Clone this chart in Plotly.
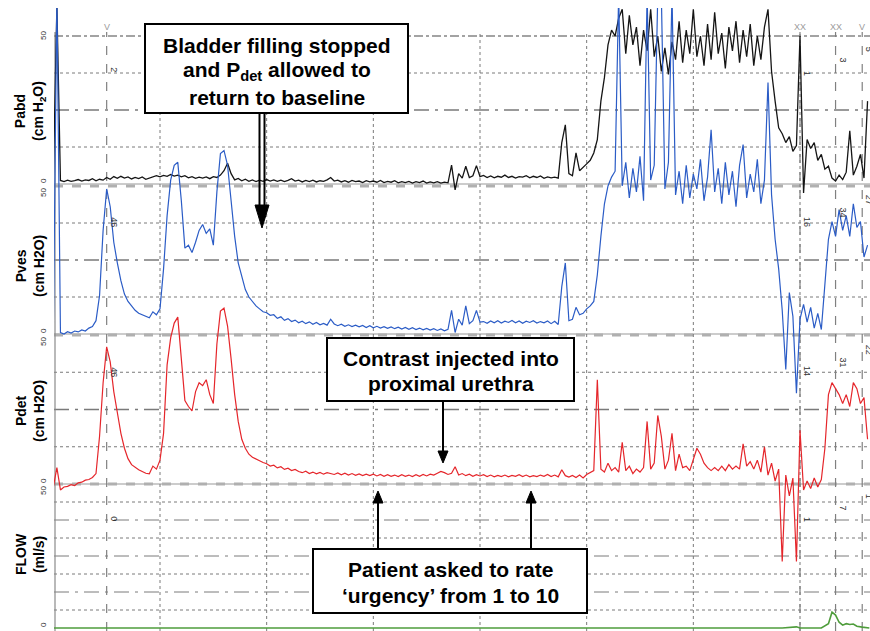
import plotly.graph_objects as go

# ---------------- data ----------------
SAMPLE_STEP_S = 2  # one sample every 2 s

pabd_cmh2o = [
    2, 60, 1.2, 0.8, 1.3, 0.9, 1.1, 1.5, 1.0, 1.4,
    1.2, 1.8, 1.1, 1.6, 1.3, 2.2, 1.6, 2.5, 1.9, 2.6,
    2.0, 2.4, 1.7, 2.2, 1.8, 2.4, 1.6, 2.0, 2.3, 2.8,
    2.4, 2.9, 2.6, 3.2, 2.7, 3.0, 2.4, 2.8, 2.1, 2.5,
    1.9, 2.3, 2.0, 2.4, 1.8, 2.5, 2.2, 3.0, 4.5, 7.0,
    3.5, 1.4, 1.9, 1.1, 1.6, 0.9, 1.4, 0.8, 1.3, 0.9,
    1.5, 1.0, 1.4, 0.9, 1.3, 0.8, 1.2, 1.8, 1.0, 1.3,
    0.7, 1.2, 0.8, 1.3, 0.7, 1.1, 0.9, 1.4, 2.2, 1.0,
    1.3, 0.7, 1.1, 0.6, 1.2, 0.8, 1.0, 0.5, 1.1, 0.7,
    1.0, 0.6, 1.2, 0.5, 0.9, 0.6, 1.1, 0.4, 0.8, 0.5,
    0.9, 0.3, 0.8, 0.5, 1.0, 0.3, 0.7, 0.4, 0.8, 0.3,
    0.6, 0.4, 6.4, -2.0, 3.5, 2.0, 6.0, 2.2, 2.8, 6.2,
    2.5, 2.9, 2.2, 2.7, 2.1, 2.6, 2.3, 3.0, 2.2, 2.6,
    2.0, 2.5, 2.3, 2.8, 2.1, 2.6, 2.2, 2.7, 1.9, 2.4,
    2.1, 2.3, 2.0, 14.0, 20.0, 3.5, 2.8, 10.5, 4.5, 5.5,
    6.8, 8.0, 10.5, 15.0, 28.0, 36.0, 47.0, 52.0, 50.0, 56.0,
    59, 44, 57, 47, 53, 40, 52, 45, 59, 43,
    50, 38, 46, 37, 48, 42, 55, 41, 52, 44,
    59, 43, 50, 40, 54, 42, 58, 44, 51, 39,
    53, 45, 55, 41, 52, 43, 54, 40, 50, 42,
    53, 59, 38, 28, 19, 17, 14, 16, 11, 13,
    50, -3, 15, 12, 14, 8, 10, 5, 6, 2,
    1, 3, 1.5, 4, 18, 3, 6, 10, 2, 28,
]

pves_cmh2o = [
    1, 115, 0.5, 0.0, 0.8, 0.3, 1.0, 0.7, 1.4, 1.0,
    2.0, 2.5, 4.5, 13, 35, 49, 43, 31, 24, 18,
    13.5, 11, 9.5, 8, 7, 6.5, 5.8, 5.5, 7.5, 6.5,
    8.5, 22, 40, 52, 57, 58, 45, 29, 30, 27.5,
    31, 35, 37, 34, 35.5, 30, 48, 61, 62, 57,
    45, 33, 24, 19, 15, 12.5, 11, 9.5, 8.5, 7.5,
    7.2, 6.3, 6.5, 5.3, 5.8, 4.6, 5.2, 4.2, 4.7, 3.8,
    4.3, 3.5, 4.1, 3.3, 3.9, 3.1, 3.6, 3.0, 5.0, 3.4,
    2.8, 3.3, 2.6, 3.1, 2.5, 3.0, 2.4, 2.9, 2.2, 2.8,
    2.1, 2.6, 2.0, 2.5, 1.9, 2.4, 1.8, 2.3, 1.7, 2.2,
    1.6, 2.1, 1.5, 2.0, 1.4, 1.9, 1.3, 1.8, 1.2, 1.7,
    1.1, 1.6, 8, 0.5, 5, 3, 9.5, 3.5, 4.5, 8,
    4, 4.2, 3.6, 4.4, 3.8, 4.5, 3.7, 4.3, 3.9, 4.6,
    3.8, 4.4, 3.6, 4.3, 3.9, 4.5, 3.7, 4.2, 3.8, 4.4,
    3.5, 4.3, 3.2, 16, 24, 4.5, 5, 9, 6.5, 7,
    8.5, 9.5, 11, 20, 33, 44, 50, 53, 55, 115,
    50, 58, 46, 56, 48, 60, 45, 115, 52, 57,
    115, 115, 49, 58, 115, 47, 55, 44, 57, 46,
    54, 49, 59, 45, 53, 69, 48, 56, 44, 58,
    47, 55, 43, 57, 64, 46, 54, 48, 59, 44,
    52, 85, 47, 32, 22, 8, -12, 14, 6, -20,
    5, 10, 4, 9, 2, 7, 1.5, 18, 32, 38,
    33, 42, 35, 40, 33, 44, 36, 38, 26, 30,
]

pdet_cmh2o = [
    -1, 5.5, -2, -1, -0.8, -0.2, -0.5, 0.4, 0.6, 1.3,
    1.5, 2.2, 3.5, 16, 34, 46, 41, 31, 24, 17,
    12, 8.5, 6.5, 5.5, 4.8, 4.2, 3.6, 3.4, 6, 5,
    8, 17, 40, 49, 54, 56, 43, 28, 26, 24.5,
    31, 34, 33, 35, 30, 27, 47, 58, 59, 53,
    42, 30, 21, 15, 12, 10, 9, 8.3, 7.8, 7.2,
    6.8, 6.0, 6.3, 5.4, 5.8, 4.9, 5.3, 4.5, 4.9, 4.2,
    3.8, 4.3, 3.5, 4.0, 3.4, 3.9, 3.3, 3.8, 3.6, 3.2,
    3.7, 3.1, 3.6, 3.0, 3.5, 2.9, 3.4, 2.8, 3.3, 2.8,
    3.3, 2.7, 3.2, 2.6, 3.1, 2.6, 3.0, 2.5, 3.1, 2.6,
    3.0, 2.5, 3.1, 2.6, 3.2, 2.7, 3.3, 3.0, 3.6, 4.2,
    3.8, 3.2, 3.6, 5.8, 3.0, 3.5, 2.8, 3.3, 2.6, 3.1,
    2.7, 3.1, 2.5, 3.0, 2.4, 2.9, 2.5, 3.0, 2.4, 2.9,
    2.6, 3.1, 2.5, 3.0, 2.4, 2.8, 2.5, 3.0, 2.6, 3.2,
    2.5, 3.0, 2.4, 4.8, 2.8, 2.3, 2.9, 2.2, 3.0, 2.0,
    3.2, 4.0, 4.5, 35, 5.0, 4.0, 7.0, 4.5, 5.5, 4.0,
    14, 4.5, 6.0, 3.5, 5.0, 4.0, 5.5, 21, 5.0, 7.0,
    23, 16, 5.0, 8.0, 17, 4.5, 10, 5.5, 6.0, 4.5,
    8, 12, 10, 7, 5.5, 4.5, 5.5, 4.5, 6.0, 4.5,
    6.5, 5.0, 6.0, 5.0, 13.5, 6, 7.5, 5, 8, 4,
    12.5, 3, 7, 1, 5, -26, 3, -4, 2, -26,
    18, -2, 1, -1.5, 2, -1, 1.5, 12, 30, 34,
    32, 30, 27, 30, 26, 34, 32, 27, 29, 15,
]

flow_time_s = [0, 410, 418, 420, 432, 436, 438, 440, 442, 444, 446, 448, 450, 452, 455, 459]
flow_mls = [0, 0, 0.4, 0, 0, 1.5, 5.5, 4.5, 2.0, 1.0, 1.5, 1.2, 1.4, 0.6, 0.3, 0]

channel_titles = ["Pabd<br>(cm H<sub>2</sub>O)", "Pves<br>(cm H2O)", "Pdet<br>(cm H2O)", "FLOW<br>(ml/s)"]
cursor_times_s = [30, 420, 440, 455]
cursor_marks = ["V", "XX", "XX", "V"]
cursor_readouts = [["2", "46", "46", "0"], ["1", "16", "14", "1"],
                   ["3", "34", "31", "7"], ["5", "27", "22", "1"]]

time_s = [i * SAMPLE_STEP_S for i in range(len(pabd_cmh2o))]

# ---------------- layout geometry ----------------
W, H = 870, 631
L, R, T, B = 54, 0, 8, 0
PW, PH = W - L - R, H - T - B


def pxx(px):
    return (px - L) / PW


def pxy(py):
    return (H - B - py) / PH


x_scale = (800 - 160) / 360.0
x_origin = 160 - 60 * x_scale
x_range = [(L - x_origin) / x_scale, (W - R - x_origin) / x_scale]


def y_range(p0, p50, top=50.0):
    s = top / (p0 - p50)
    return [-((H - B) - p0) * s, (p0 - T) * s]


# (axis, pixel of 0, pixel of full scale, full scale)
panels = [("y", 184, 36, 50), ("y2", 334, 186, 50), ("y3", 484, 335, 50), ("y4", 628, 484, 50)]

fig = go.Figure()
fig.add_trace(go.Scatter(x=time_s, y=pabd_cmh2o, mode="lines", yaxis="y",
                         line=dict(color="#151515", width=1.3), hoverinfo="skip"))
fig.add_trace(go.Scatter(x=time_s, y=pves_cmh2o, mode="lines", yaxis="y2",
                         line=dict(color="#2b5cc6", width=1.2), hoverinfo="skip"))
fig.add_trace(go.Scatter(x=time_s, y=pdet_cmh2o, mode="lines", yaxis="y3",
                         line=dict(color="#e5262b", width=1.2), hoverinfo="skip"))
fig.add_trace(go.Scatter(x=flow_time_s, y=flow_mls, mode="lines", yaxis="y4",
                         line=dict(color="#4f9d3c", width=1.6), hoverinfo="skip"))

shapes = []
GRID = "#7a7a7a"


def hline(yref, v, dash, color=GRID, width=1.0):
    shapes.append(dict(type="line", xref="paper", x0=0, x1=1, yref=yref, y0=v, y1=v,
                       line=dict(color=color, width=width, dash=dash), layer="below"))


# pressure panels
for k, (ax, p0, p50, top) in enumerate(panels[:3]):
    hline(ax, 12.5, "dot")
    hline(ax, 25, "longdashdot", width=1.3)
    hline(ax, 37.5, "dot")
    hline(ax, 0, "solid", color="#9a9a9a", width=1.2)
    if k == 0:
        hline(ax, 50, "dashdot", color="#858585", width=1.5)
    else:
        hline(ax, 50, "dash", color="#b0b0b0", width=3)
# flow panel
for v, d in [(6.25, "dot"), (12.5, "longdashdot"), (18.75, "dot"), (25, "longdashdot"),
             (31.25, "dot"), (37.5, "longdashdot"), (43.75, "dot")]:
    hline("y4", v, d)
hline("y4", 50, "dash", color="#b0b0b0", width=3)

# vertical grid
for tv in [60, 120, 180, 240, 300, 360, 420]:
    shapes.append(dict(type="line", xref="x", x0=tv, x1=tv, yref="paper", y0=0, y1=pxy(32),
                       line=dict(color=GRID, width=1, dash="dot"), layer="below"))
for tv in cursor_times_s:
    shapes.append(dict(type="line", xref="x", x0=tv, x1=tv, yref="paper", y0=0, y1=pxy(32),
                       line=dict(color="#808080", width=1.2, dash="dash"), layer="below"))
# left axis line
shapes.append(dict(type="line", xref="paper", x0=pxx(55), x1=pxx(55), yref="paper", y0=0,
                   y1=pxy(32), line=dict(color="#8a8a8a", width=1.2), layer="below"))


def rect(x0, y0, x1, y1):
    shapes.append(dict(type="rect", xref="paper", yref="paper", x0=pxx(x0), x1=pxx(x1),
                       y0=pxy(y1), y1=pxy(y0), fillcolor="white",
                       line=dict(color="black", width=2)))


def tri(x, y_base, y_tip, half_w):
    path = "M {} {} L {} {} L {} {} Z".format(pxx(x - half_w), pxy(y_base), pxx(x + half_w),
                                              pxy(y_base), pxx(x), pxy(y_tip))
    shapes.append(dict(type="path", xref="paper", yref="paper", path=path,
                       fillcolor="black", line=dict(color="black", width=1)))


def vline_px(x, y0, y1, width=2):
    shapes.append(dict(type="line", xref="paper", yref="paper", x0=pxx(x), x1=pxx(x),
                       y0=pxy(y0), y1=pxy(y1), line=dict(color="black", width=width)))


def arrow(x, y_tail, y_tip, head=12, half_w=5):
    sgn = 1 if y_tip > y_tail else -1
    base = y_tip - sgn * head
    vline_px(x, y_tail, base)
    tri(x, base, y_tip, half_w)


rect(145, 24, 408, 113)
rect(327, 338, 574, 401)
rect(313, 549, 587, 613)
# double-shaft arrow
vline_px(259.5, 113, 206, 2)
vline_px(264.5, 113, 206, 2)
tri(262, 205, 228, 7)
arrow(443, 401, 463)
arrow(378, 549, 491)
arrow(531, 549, 491)

ann = []
BOX_FONT = dict(family="Arial, Liberation Sans, sans-serif", size=21, color="black")


def text_px(x, y, s, font, angle=0):
    ann.append(dict(xref="paper", yref="paper", x=pxx(x), y=pxy(y), text=s, showarrow=False,
                    font=font, textangle=angle, xanchor="center", yanchor="middle"))


for yy, s in [(45, "<b>Bladder filling stopped</b>"),
              (71, "<b>and P<sub>det</sub> allowed to</b>"),
              (97, "<b>return to baseline</b>")]:
    text_px(276.5, yy, s, BOX_FONT)
for yy, s in [(358, "<b>Contrast injected into</b>"), (383, "<b>proximal urethra</b>")]:
    text_px(450.5, yy, s, BOX_FONT)
for yy, s in [(569, "<b>Patient asked to rate</b>"), (595, "<b>‘urgency’ from 1 to 10</b>")]:
    text_px(450, yy, s, BOX_FONT)

# channel titles
TITLE_FONT = dict(family="Arial, Liberation Sans, sans-serif", size=14, color="black")
for s, yc in zip(channel_titles, [111, 266, 411, 554]):
    text_px(30, yc, "<b>" + s.replace("<br>", "</b><br><b>") + "</b>", TITLE_FONT, angle=-90)

# scale labels
TICK_FONT = dict(family="Arial, Liberation Sans, sans-serif", size=8, color="#333333")
for k, (ax, p0, p50, top) in enumerate(panels):
    ann.append(dict(xref="paper", yref=ax, x=pxx(43), y=top, text=str(top), showarrow=False,
                    font=TICK_FONT, textangle=-90, xanchor="center", yanchor="middle",
                    yshift=(0 if k == 0 else -7)))
    ann.append(dict(xref="paper", yref=ax, x=pxx(43), y=0, text="0", showarrow=False,
                    font=TICK_FONT, textangle=-90, xanchor="center", yanchor="middle",
                    yshift=3))

# cursor marks and readouts
MARK_FONT = dict(family="Arial, Liberation Sans, sans-serif", size=9, color="#9a9a9a")
READ_FONT = dict(family="Arial, Liberation Sans, sans-serif", size=9, color="#333333")
readout_py = [[70, 222, 372, 519], [73, 222, 371, 519], [60, 212, 362, 508], [49, 200, 350, 496]]
for tv, mk, vals, pys in zip(cursor_times_s, cursor_marks, cursor_readouts, readout_py):
    ann.append(dict(xref="x", yref="paper", x=tv, y=pxy(27), text=mk, showarrow=False,
                    font=MARK_FONT, xanchor="center", yanchor="middle"))
    for s, py in zip(vals, pys):
        ann.append(dict(xref="x", yref="paper", x=tv, y=pxy(py), text=s, showarrow=False,
                        font=READ_FONT, textangle=90, xshift=7, xanchor="center",
                        yanchor="middle"))

axis_common = dict(showgrid=False, zeroline=False, showticklabels=False, showline=False,
                   ticks="", fixedrange=True)
layout = dict(
    width=W, height=H, margin=dict(l=L, r=R, t=T, b=B, pad=0),
    paper_bgcolor="white", plot_bgcolor="white", showlegend=False,
    xaxis=dict(range=x_range, domain=[0, 1], **axis_common),
    shapes=shapes, annotations=ann,
)
for ax, p0, p50, top in panels:
    key = "yaxis" if ax == "y" else "yaxis" + ax[1:]
    d = dict(range=y_range(p0, p50, top), domain=[0, 1], **axis_common)
    if ax != "y":
        d["overlaying"] = "y"
    layout[key] = d
fig.update_layout(**layout)

fig.write_html("out.html", config={"displayModeBar": False},
               post_script="document.body.style.margin='0';document.body.style.overflow='hidden';")
